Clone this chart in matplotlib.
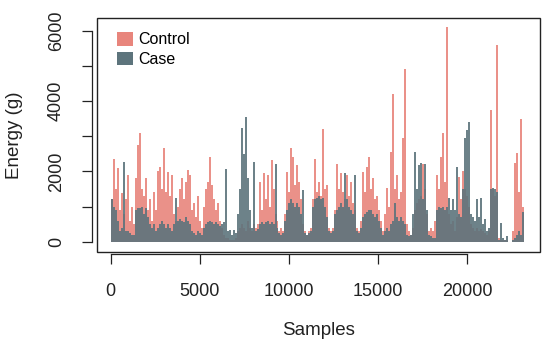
import numpy as np
import matplotlib
matplotlib.use("Agg")
import matplotlib.pyplot as plt
from matplotlib.patches import Rectangle, Patch

plt.rcParams['font.family'] = ['Liberation Sans', 'DejaVu Sans']

# Binned energy values (each bin ~112 samples)
control = [
    1200, 2350, 1500, 2090, 900, 1390, 800, 1200, 1900, 600,
    1000, 500, 1800, 2745, 3080, 1500, 1300, 1800, 900, 1200,
    600, 1400, 900, 2000, 2120, 1500, 2660, 1400, 1980, 1300,
    1900, 800, 600, 1000, 1500, 1810, 1200, 1700, 2040, 1900,
    900, 1100, 700, 1300, 600, 400, 1000, 1500, 1700, 2410,
    1600, 1200, 900, 1100, 600, 400, 200, 100, 100, 50,
    50, 50, 100, 300, 400, 500, 400, 300, 600, 400,
    300, 500, 400, 500, 1700, 900, 1950, 1200, 1900, 1000,
    2320, 1500, 800, 600, 300, 400, 300, 800, 1980, 1400,
    2660, 2410, 1600, 2180, 1700, 1200, 500, 300, 200, 300,
    400, 1200, 2350, 1400, 1700, 1300, 3200, 1500, 1600, 400,
    300, 400, 900, 2200, 1500, 1950, 1400, 1200, 1900, 1300,
    1700, 1100, 900, 400, 300, 600, 1980, 1400, 2120, 2410,
    1500, 1810, 1200, 1300, 900, 600, 300, 800, 1530, 1000,
    2550, 4210, 1500, 1900, 1200, 1400, 2940, 4920, 500, 300,
    200, 400, 900, 1100, 1200, 1300, 2200, 1500, 800, 300,
    400, 300, 600, 1900, 1500, 2400, 3080, 1700, 6110, 800,
    500, 600, 300, 700, 1850, 1200, 2000, 1500, 1300, 1000,
    500, 400, 300, 400, 300, 350, 300, 250, 200, 300,
    3740, 1500, 1300, 5580, 100, 50, 50, 50, 50, 0,
    0, 300, 2240, 2520, 1400, 3500, 1000,
]
case = [
    1200, 1000, 900, 600, 300, 400, 2270, 300, 300, 250,
    200, 200, 900, 960, 960, 1000, 800, 950, 700, 500,
    400, 500, 300, 400, 500, 600, 500, 400, 500, 400,
    300, 500, 1250, 600, 650, 600, 550, 700, 600, 500,
    300, 250, 200, 300, 250, 200, 400, 500, 550, 600,
    550, 500, 550, 500, 450, 500, 550, 2070, 300, 340,
    200, 340, 250, 800, 1500, 3220, 2500, 3540, 1800, 900,
    400, 2260, 300, 350, 500, 550, 500, 550, 600, 500,
    550, 500, 2210, 400, 250, 200, 250, 600, 900, 1100,
    1200, 1100, 1000, 1100, 1000, 800, 1470, 250, 200, 250,
    300, 1000, 1200, 1250, 1300, 1200, 1250, 1000, 700, 300,
    250, 300, 800, 900, 1000, 1100, 1000, 1950, 1200, 1000,
    900, 800, 1900, 300, 250, 400, 700, 800, 850, 900,
    900, 800, 700, 800, 600, 400, 200, 300, 400, 300,
    500, 600, 1100, 700, 600, 700, 600, 500, 200, 150,
    200, 800, 2550, 1500, 2180, 2240, 1200, 2200, 900, 200,
    150, 100, 100, 900, 1000, 950, 1000, 900, 1000, 1250,
    900, 1200, 900, 2120, 800, 700, 1500, 2940, 3170, 3400,
    800, 700, 600, 1200, 700, 1250, 500, 650, 300, 400,
    1500, 1530, 1500, 1400, 50, 540, 100, 50, 170, 0,
    0, 50, 100, 200, 300, 200, 850,
]
series_names = ["Control", "Case"]
x_ticks = [0, 5000, 10000, 15000, 20000]
y_ticks = [0, 1000, 2000, 3000, 4000, 5000, 6000]
y_ticklabels = ["0", "", "2000", "", "4000", "", "6000"]
bin_size = 112

c_control = "#E8857C"
c_case = "#5D747C"

n = len(control)
assert len(case) == n
xpos = np.arange(n) * bin_size

fig = plt.figure(figsize=(5.5, 3.49), dpi=100)
ax = fig.add_axes([96.5 / 550, 1 - 252 / 349, (540 - 96.5) / 550, (252 - 18) / 349])

ax.bar(xpos, control, width=bin_size, align='edge', color=c_control, alpha=0.9, linewidth=0)
ax.bar(xpos, case, width=bin_size, align='edge', color=c_case, alpha=0.9, linewidth=0)

ax.set_xlim(-800, 24075)
ax.set_ylim(-293, 6361)

for s in ax.spines.values():
    s.set_visible(False)
ax.add_patch(Rectangle((0, 0), 1, 1, transform=ax.transAxes, fill=False,
                       edgecolor='#222222', linewidth=1.0, clip_on=False, zorder=5))

ax.spines['left'].set_visible(True)
ax.spines['left'].set_position(('outward', 3.6))
ax.spines['left'].set_bounds(0, 6000)
ax.spines['bottom'].set_visible(True)
ax.spines['bottom'].set_position(('outward', 1.5))
ax.spines['bottom'].set_bounds(0, 20000)
for side in ['left', 'bottom']:
    ax.spines[side].set_color('#222222')
    ax.spines[side].set_linewidth(0.9)

ax.set_xticks(x_ticks)
ax.set_xticklabels([str(v) for v in x_ticks])
ax.set_yticks(y_ticks)
ax.set_yticklabels(y_ticklabels, rotation=90, va='center')
ax.tick_params(axis='both', direction='out', length=7, width=0.9, color='#222222',
               labelsize=13, labelcolor='#222222')
ax.tick_params(axis='x', pad=14)
ax.tick_params(axis='y', pad=12)

ax.set_xlabel("Samples", fontsize=13.5, color='#222222', labelpad=16)
ax.set_ylabel("Energy (g)", fontsize=13.5, color='#222222', labelpad=18)

handles = [Patch(facecolor=c_control, edgecolor='none'), Patch(facecolor=c_case, edgecolor='none')]
ax.legend(handles, series_names, loc='upper left', bbox_to_anchor=(0.025, 0.98),
          frameon=False, fontsize=11.5, handlelength=1.0, handleheight=0.9,
          handletextpad=0.35, labelspacing=0.3, borderaxespad=0.2)

fig.savefig("out.png", dpi=100)
